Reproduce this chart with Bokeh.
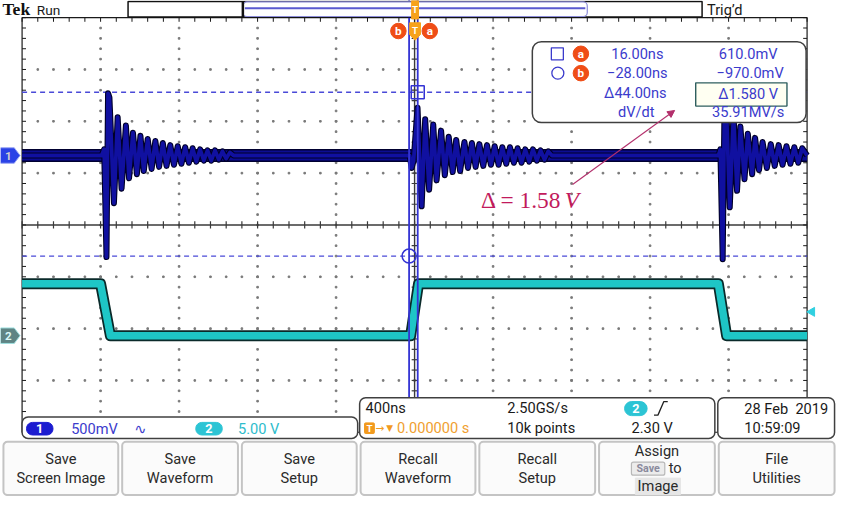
import numpy as np
from bokeh.plotting import figure
from bokeh.models import Range1d, Arrow, NormalHead
from bokeh.core.properties import value
from bokeh.embed import file_html
from bokeh.resources import INLINE

# ---------------- data ----------------
TIME_PER_DIV_NS = 400.0
CH1_V_PER_DIV = 0.5
CH2_V_PER_DIV = 5.0
CURSOR_T_NS = [16.0, -28.0]      # cursor a, cursor b
CURSOR_V = [0.610, -0.970]       # cursor a, cursor b (ch1)
TRIG_LEVEL_V = 2.30
CH1_NOISE_V = 0.055

ch1_t = [-2000,
         -1595, -1582, -1570, -1562, -1555, -1532, -1513, -1493, -1471, -1455, -1435, -1415,
         -1397, -1380, -1360, -1340, -1321, -1302, -1283, -1264, -1245, -1226, -1207, -1188,
         -1169, -1150, -1131, -1112, -1093, -1074, -1055, -1036, -1017, -998, -979, -960, -941, -922,
         -25, -15, -5, 15, 36, 54, 74, 95, 112, 135, 154, 174, 194, 212, 232, 254, 272, 292,
         311, 330, 350, 369, 389, 408, 428, 447, 467, 486, 506, 525, 545, 564, 584, 603, 623,
         642, 662, 681, 700,
         1548, 1558, 1570, 1580, 1587, 1606, 1625, 1643, 1660, 1681, 1698, 1720, 1735, 1755,
         1773, 1795, 1815, 1835, 1855, 1875, 1895, 1915, 1935, 1955, 1975, 2000]
ch1_v = [0.0,
         0.0, 0.06, -0.98, 0.60, 0.56, -0.46, 0.37, -0.32, 0.29, -0.22, 0.22, -0.18,
         0.19, -0.15, 0.16, -0.13, 0.14, -0.11, 0.12, -0.10, 0.10, -0.09, 0.09, -0.08,
         0.08, -0.07, 0.07, -0.06, 0.06, -0.05, 0.05, -0.05, 0.05, -0.04, 0.04, -0.03, 0.03, 0.0,
         0.0, -0.12, -0.05, 0.46, -0.49, 0.35, -0.33, 0.30, -0.24, 0.24, -0.19, 0.18, -0.16,
         0.15, -0.15, 0.13, -0.12, 0.12, -0.11, 0.11, -0.10, 0.10, -0.09, 0.09, -0.09, 0.08,
         -0.08, 0.08, -0.07, 0.07, -0.07, 0.06, -0.06, 0.06, -0.05, 0.05, -0.04, 0.04, 0.0,
         0.0, 0.06, -1.0, 0.60, 0.55, -0.50, 0.40, -0.34, 0.28, -0.23, 0.21, -0.18, 0.17,
         -0.14, 0.13, -0.12, 0.11, -0.10, 0.10, -0.09, 0.09, -0.08, 0.08, -0.07, 0.07, 0.0]

ch2_t = [-2000, -1600, -1550, -20, 20, 1548, 1590, 2000]
ch2_v = [5.0, 5.0, 0.0, 0.0, 5.0, 5.0, 0.0, 0.0]

# ---------------- layout (reference pixel frame 853 x 512) ----------------
REF_W, REF_H = 853, 512
GX_CENTER = 422.0
PX_PER_DIV_X = 80.0
GY_CENTER = 231.7
PX_PER_DIV_Y = 53.5
CH1_ZERO_Y = 160.0
CH2_ZERO_Y = 346.0
FS = 0.975

ns_per_px = TIME_PER_DIV_NS / PX_PER_DIV_X
x_range = Range1d(-GX_CENTER * ns_per_px, (REF_W - GX_CENTER) * ns_per_px)
y_range = Range1d(-(REF_H - GY_CENTER) / PX_PER_DIV_Y, GY_CENTER / PX_PER_DIV_Y)

p = figure(width=837, height=496, x_range=x_range, y_range=y_range,
           output_backend="svg", toolbar_location=None, min_border=0,
           x_axis_location=None, y_axis_location=None)
p.grid.visible = False
p.outline_line_color = None
p.background_fill_color = "white"
p.border_fill_color = "white"
p.extra_x_ranges = {"px": Range1d(0, REF_W)}
p.extra_y_ranges = {
    "px": Range1d(REF_H, 0),
    "ch1": Range1d(-(REF_H - CH1_ZERO_Y) / PX_PER_DIV_Y * CH1_V_PER_DIV, CH1_ZERO_Y / PX_PER_DIV_Y * CH1_V_PER_DIV),
    "ch2": Range1d(-(REF_H - CH2_ZERO_Y) / PX_PER_DIV_Y * CH2_V_PER_DIV, CH2_ZERO_Y / PX_PER_DIV_Y * CH2_V_PER_DIV),
}
PX = dict(x_range_name="px", y_range_name="px")


def T(x, y, s, size=15, color="#1a1a1a", font="Roboto", align="left", style="normal"):
    p.text(x=[x], y=[y], text=[s], text_font=value(font), text_font_size=f"{size * FS:.1f}px",
           text_color=color, text_align=align, text_baseline="middle", text_font_style=style, **PX)


def box(x0, x1, y0, y1, fill="white", line="#3a3a3a", lw=1.5, r=0):
    p.quad(left=x0, right=x1, top=y0, bottom=y1, fill_color=fill, line_color=line,
           line_width=lw, border_radius=int(round(r)), **PX)


# ---------------- graticule ----------------
HALF_X = 5 * TIME_PER_DIV_NS
minor_x = np.arange(-HALF_X, HALF_X + 1, TIME_PER_DIV_NS / 5)
minor_y = np.round(np.arange(-4, 4.001, 0.2), 3)
major_x = [v for v in np.arange(-HALF_X, HALF_X + 1, TIME_PER_DIV_NS) if abs(v) > 1 and abs(v) < HALF_X]
major_y = [-3, -2, -1, 1, 2, 3]
dx, dy = [], []
for mx in major_x:
    for my in minor_y[1:-1]:
        dx.append(mx); dy.append(my)
for my in major_y:
    for mx in minor_x[1:-1]:
        dx.append(mx); dy.append(my)
p.scatter(dx, dy, marker="square", size=1.6, color="#7a7a7a")

p.quad(left=-HALF_X, right=HALF_X, top=4, bottom=-4, fill_color=None, line_color="#1a1a1a", line_width=1.2)
p.segment(x0=[0, -HALF_X], y0=[-4, 0], x1=[0, HALF_X], y1=[4, 0], line_color="#3a3a3a", line_width=1.4)
# ticks on centre axes
p.segment(x0=list(minor_x), y0=[-0.07] * len(minor_x), x1=list(minor_x), y1=[0.07] * len(minor_x),
          line_color="#3a3a3a", line_width=1.2)
p.segment(x0=[-15] * len(minor_y), y0=list(minor_y), x1=[15] * len(minor_y), y1=list(minor_y),
          line_color="#3a3a3a", line_width=1.2)
# ticks on frame edges
p.segment(x0=list(minor_x), y0=[4] * len(minor_x), x1=list(minor_x), y1=[3.92] * len(minor_x),
          line_color="#1a1a1a", line_width=1)
p.segment(x0=[-HALF_X] * len(minor_y), y0=list(minor_y), x1=[-HALF_X + 20] * len(minor_y), y1=list(minor_y),
          line_color="#1a1a1a", line_width=1)
p.segment(x0=[HALF_X] * len(minor_y), y0=list(minor_y), x1=[HALF_X - 20] * len(minor_y), y1=list(minor_y),
          line_color="#1a1a1a", line_width=1)

# ---------------- horizontal cursors (dashed) ----------------
p.segment(x0=[-HALF_X] * 2, y0=CURSOR_V, x1=[HALF_X] * 2, y1=CURSOR_V, y_range_name="ch1",
          line_color="#4a4ad8", line_width=1.3, line_dash="5 4")

# ---------------- channel 2 trace ----------------
p.line(ch2_t, ch2_v, y_range_name="ch2", line_color="#0a2a2a", line_width=11, line_join="round")
p.line(ch2_t, ch2_v, y_range_name="ch2", line_color="#1ec6c6", line_width=7.5, line_join="round")

# ---------------- channel 1 trace ----------------
p.varea(x=[-HALF_X, HALF_X], y1=[-CH1_NOISE_V] * 2, y2=[CH1_NOISE_V] * 2, y_range_name="ch1",
        fill_color="#0c0c92")
p.segment(x0=[-HALF_X] * 2, y0=[-CH1_NOISE_V, CH1_NOISE_V], x1=[HALF_X] * 2, y1=[-CH1_NOISE_V, CH1_NOISE_V],
          y_range_name="ch1", line_color="#000030", line_width=1.5)
p.line(ch1_t, ch1_v, y_range_name="ch1", line_color="#000028", line_width=6, line_join="round")
p.line(ch1_t, ch1_v, y_range_name="ch1", line_color="#1010a0", line_width=3.8, line_join="round")

# ---------------- vertical cursors ----------------
p.segment(x0=CURSOR_T_NS, y0=[4.4, 4.4], x1=CURSOR_T_NS, y1=[-4, -4], line_color="#3434d4", line_width=1.8)
p.scatter([CURSOR_T_NS[0]], [CURSOR_V[0]], y_range_name="ch1", marker="square", size=13,
          fill_color=None, line_color="#3434d4", line_width=1.5)
p.scatter([CURSOR_T_NS[1]], [CURSOR_V[1]], y_range_name="ch1", marker="circle", size=14,
          fill_color=None, line_color="#3434d4", line_width=1.5)

# trigger level marker (right edge)
p.scatter([HALF_X + 25], [TRIG_LEVEL_V], y_range_name="ch2", marker="triangle", angle=np.pi / 2,
          size=9, color="#30d0e0")

# ---------------- top bar ----------------
T(2, 9, "Tek", size=18, color="#111111", font="Liberation Serif", style="bold")
T(37, 9.5, "Run", size=14, color="#1a1a1a")
box(130, 715, 1, 17, fill="white", line="#111111", lw=1.5)
box(247, 598, 1.5, 16.5, fill="white", line="#8c8cd8", lw=1.2, r=4)
p.segment(x0=[249], y0=[8], x1=[596], y1=[8], line_color="#5a5ad0", line_width=2, **PX)
p.segment(x0=[247], y0=[1], x1=[247], y1=[17], line_color="#111111", line_width=2.5, **PX)
box(419, 426, 0, 19, fill="#f7a21b", line="#f7a21b", lw=1)
T(422.5, 9, "T", size=10, color="white", align="center", style="bold")
T(720, 9.5, "Trig\u2019d", size=15, color="#1a1a1a")

# b / T / a markers
p.scatter([405.5, 437.5], [31.5, 31.5], marker="circle", size=15.5, color="#ef4d16", **PX)
T(405.5, 31.5, "b", size=12, color="white", align="center", style="bold")
T(437.5, 31.5, "a", size=12, color="white", align="center", style="bold")
p.patch([417, 428, 428, 422.5, 417], [23, 23, 35, 41, 35], color="#f7a21b", **PX)
T(422.5, 30.5, "T", size=10, color="white", align="center", style="bold")

# channel ground markers (left)
p.patch([0, 14, 20, 14, 0], [CH1_ZERO_Y - 8, CH1_ZERO_Y - 8, CH1_ZERO_Y, CH1_ZERO_Y + 8, CH1_ZERO_Y + 8],
        fill_color="#2a42e6", line_color="#9aa6f4", line_width=1, **PX)
T(8, CH1_ZERO_Y, "1", size=12, color="#cfcfcf", align="center", style="bold")
p.patch([0, 14, 20, 14, 0], [CH2_ZERO_Y - 8, CH2_ZERO_Y - 8, CH2_ZERO_Y, CH2_ZERO_Y + 8, CH2_ZERO_Y + 8],
        fill_color="#5f8484", line_color="#9fe0e0", line_width=1, **PX)
T(8, CH2_ZERO_Y, "2", size=12, color="#d8f8f8", align="center", style="bold")

# ---------------- cursor readout box ----------------
BLUE = "#3b3bcc"
box(542, 821, 42.5, 126, fill="white", line="#404040", lw=1.5, r=9)
p.scatter([567.5], [55], marker="square", size=12, fill_color=None, line_color=BLUE, line_width=1.3, **PX)
p.scatter([568], [75], marker="circle", size=12, fill_color=None, line_color=BLUE, line_width=1.3, **PX)
p.scatter([591.5, 591.5], [55, 75], marker="circle", size=15.5, color="#ef4d16", **PX)
T(591.5, 55, "a", size=12, color="white", align="center", style="bold")
T(591.5, 75, "b", size=12, color="white", align="center", style="bold")
T(649, 55, f"{CURSOR_T_NS[0]:.2f}ns", color=BLUE, align="center")
T(649, 75, f"\u2212{abs(CURSOR_T_NS[1]):.2f}ns", color=BLUE, align="center")
T(647, 95, f"\u0394{CURSOR_T_NS[0] - CURSOR_T_NS[1]:.2f}ns", color=BLUE, align="center")
T(648, 115, "dV/dt", color=BLUE, align="center")
T(762, 55, f"{CURSOR_V[0] * 1000:.1f}mV", color=BLUE, align="center")
T(764, 75, f"\u2212{abs(CURSOR_V[1]) * 1000:.1f}mV", color=BLUE, align="center")
box(708.5, 801.5, 85, 109, fill="#fffff2", line="#2f5f5f", lw=1.4)
T(762, 96, f"\u0394{CURSOR_V[0] - CURSOR_V[1]:.3f}\u00a0V", color=BLUE, align="center")
dvdt = (CURSOR_V[0] - CURSOR_V[1]) / ((CURSOR_T_NS[0] - CURSOR_T_NS[1]) * 1e-9) / 1e6
T(762, 115.5, f"{dvdt:.2f}MV/s", color=BLUE, align="center")

# ---------------- annotation ----------------
CRIM = "#c21a5c"
p.add_layout(Arrow(end=NormalHead(size=7, fill_color="#b3306c", line_color="#b3306c"),
                   x_start=583, y_start=190, x_end=687, y_end=113.5,
                   line_color="#b3306c", line_width=1.1, **PX))
T(572, 206, f"\u0394 = {CURSOR_V[0] - CURSOR_V[1]:.2f}", size=24, color=CRIM, font="Liberation Serif", align="right")
T(575, 206, "V", size=24, color=CRIM, font="Liberation Serif", style="italic")

# ---------------- bottom readouts ----------------
box(22, 364, 430, 452, fill="white", line="#404040", lw=1.5, r=6)
box(366, 728, 410, 452, fill="white", line="#404040", lw=1.5, r=6)
box(731, 850, 410, 452, fill="white", line="#404040", lw=1.5, r=6)

box(26.5, 53.5, 435.5, 448.5, fill="#1c1cd0", line="#1c1cd0", lw=1, r=6)
T(40, 442, "1", size=13, color="white", align="center", style="bold")
T(72, 442, f"{CH1_V_PER_DIV * 1000:.0f}mV", color=BLUE)
T(142.5, 442, "\u223f", size=15, color=BLUE, font="DejaVu Sans", align="center")
box(199, 226, 435.5, 448.5, fill="#2cc4d4", line="#2cc4d4", lw=1, r=6)
T(212.5, 442, "2", size=13, color="white", align="center", style="bold")
T(242, 442, f"{CH2_V_PER_DIV:.2f}\u00a0V", color="#2ebccc")

T(372, 421, f"{TIME_PER_DIV_NS:.0f}ns")
T(516.5, 421, "2.50GS/s")
box(636, 659, 414, 428.5, fill="#2cc4d4", line="#2cc4d4", lw=1, r=7)
T(647.5, 421.2, "2", size=13, color="white", align="center", style="bold")
p.line([666, 670, 676, 680], [428, 428, 414, 414], line_color="#202020", line_width=1.3, **PX)
box(371, 381, 436, 447, fill="#f29a1e", line="#f29a1e", lw=1, r=1)
T(376, 441.5, "T", size=10, color="white", align="center", style="bold")
T(382, 441.5, "\u2192", size=11, color="#f29a1e", font="DejaVu Sans")
T(393, 441.5, "\u25bc", size=9, color="#f29a1e", font="DejaVu Sans")
T(404, 441.5, "0.000000\u00a0s", color="#f0a030")
T(516.5, 441.5, "10k points")
T(643, 441.5, f"{TRIG_LEVEL_V:.2f}\u00a0V")
T(758, 421.5, "28 Feb\u00a0\u00a02019")
T(758, 441.5, "10:59:09")

# ---------------- soft-key buttons ----------------
btn_x = [(3, 120), (124, 242), (246, 363), (367, 484), (488, 606), (610, 728), (732, 850)]
btn_lbl = [("Save", "Screen Image"), ("Save", "Waveform"), ("Save", "Setup"), ("Recall", "Waveform"),
           ("Recall", "Setup"), None, ("File", "Utilities")]
for (x0, x1), lbl in zip(btn_x, btn_lbl):
    box(x0, x1, 455.5, 510.5, fill="#fbfbfb", line="#c4c4c4", lw=2, r=4)
    cx = (x0 + x1) / 2
    if lbl:
        T(cx, 473.5, lbl[0], size=15, color="#2a2a2a", align="center")
        T(cx, 493, lbl[1], size=15, color="#2a2a2a", align="center")
cx6 = (btn_x[5][0] + btn_x[5][1]) / 2
T(cx6, 465, "Assign", size=15, color="#2a2a2a", align="center")
box(643, 677, 476.5, 490, fill="#ececec", line="#b8b8b8", lw=1.2, r=2)
T(660, 483.3, "Save", size=11, color="#8a8a9c", align="center", style="bold")
T(681, 483, "to", size=15, color="#2a2a2a")
box(647, 693, 493, 510, fill="#e6e6e6", line="#e6e6e6", lw=1)
T(670, 501.5, "Image", size=15, color="#2a2a2a", align="center")

open("out.html", "w").write(file_html(p, INLINE))
